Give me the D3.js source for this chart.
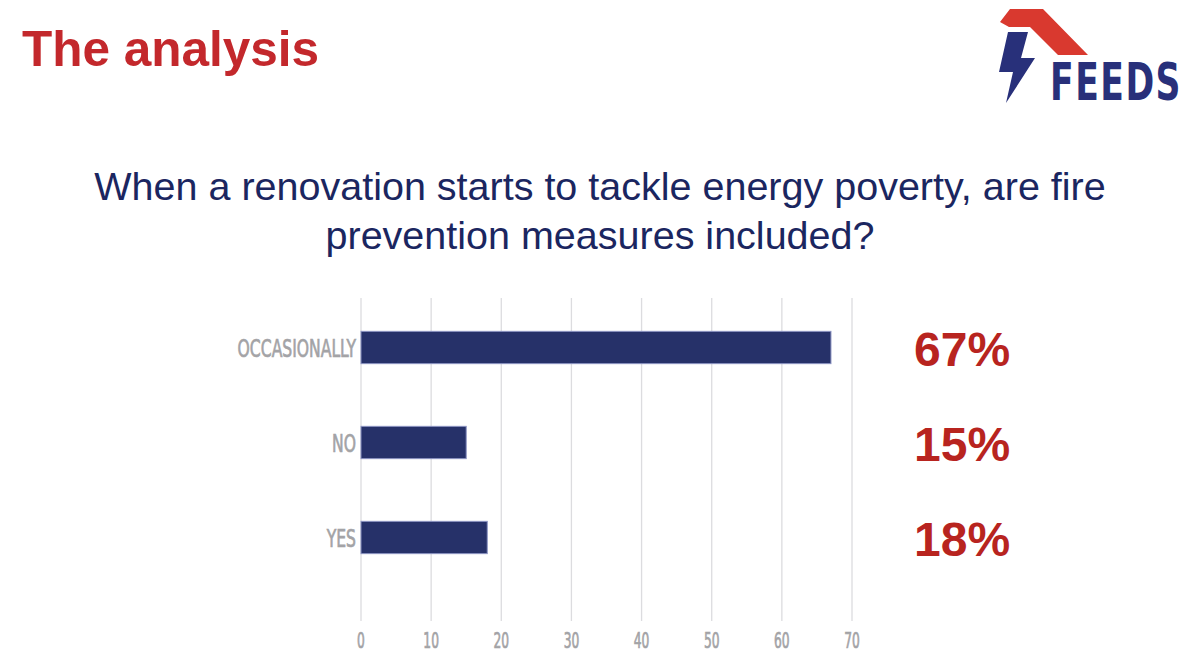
<!DOCTYPE html>
<html><head><meta charset="utf-8">
<script src="https://cdn.jsdelivr.net/npm/d3@7"></script>
<style>body{margin:0;background:#fff}svg{display:block}</style>
</head><body>
<svg id="c" width="1200" height="671"></svg>
<script>
const categories = ["OCCASIONALLY", "NO", "YES"];
const values = [67, 15, 18];
const valueLabels = ["67%", "15%", "18%"];
const ticks = [0, 10, 20, 30, 40, 50, 60, 70];
const title = "The analysis";
const question = ["When a renovation starts to tackle energy poverty, are fire", "prevention measures included?"];

const svg = d3.select("#c");
const x = d3.scaleLinear().domain([0, 70]).range([361, 852]);
const y = d3.scaleBand().domain(categories).range([300, 585]).paddingInner(0.66).paddingOuter(0.33);
const condensed = "'Liberation Sans Narrow','DejaVu Sans Condensed','Arial Narrow',sans-serif";

// title
svg.append("text").attr("x", 22).attr("y", 66).attr("font-family", "'Liberation Sans',Arial,sans-serif")
  .attr("font-weight", "bold").attr("font-size", 49.5).attr("fill", "#c3282c").text(title);

// question
svg.selectAll("text.q").data(question).join("text").attr("class", "q")
  .attr("x", 600).attr("y", (d, i) => 200 + i * 49).attr("text-anchor", "middle")
  .attr("font-family", "'Liberation Sans',Arial,sans-serif").attr("font-size", 39.5)
  .attr("fill", "#1b2660").text(d => d);

// logo
const logo = svg.append("g");
logo.append("path").attr("d", "M1000,22 L1010,9 L1043,9 L1088,55 L1058,55 L1030,27 L1009,27 Z").attr("fill", "#d9392f");
logo.append("path").attr("d", "M1008,32 L1028,32 L1021,58 L1035,58 L1006,103 L1013,72 L999,72 Z").attr("fill", "#28307a");
logo.append("text").attr("transform", "translate(1050,100) scale(0.74,1)")
  .attr("font-family", condensed).attr("font-weight", "bold").attr("font-size", 52)
  .attr("fill", "#28307a").attr("letter-spacing", 2).text("FEEDS");

// grid
svg.append("g").selectAll("line").data(ticks).join("line")
  .attr("x1", d => x(d)).attr("x2", d => x(d)).attr("y1", 298).attr("y2", 621)
  .attr("stroke", "#dcdcdf").attr("stroke-width", 1.3);

// tick labels
svg.append("g").selectAll("text").data(ticks).join("text")
  .attr("transform", d => `translate(${x(d)},648) scale(0.62,1)`)
  .attr("text-anchor", "middle").attr("font-family", condensed).attr("font-size", 22)
  .attr("fill", "#a3a3a6").attr("stroke", "#a3a3a6").attr("stroke-width", 0.7).text(d => d);

// bars
svg.append("g").selectAll("rect").data(values).join("rect")
  .attr("x", x(0)).attr("y", (d, i) => y(categories[i]))
  .attr("width", d => x(d) - x(0)).attr("height", y.bandwidth())
  .attr("fill", "#263169").attr("stroke", "#8b93c2").attr("stroke-width", 1);

// category labels
svg.append("g").selectAll("text").data(categories).join("text")
  .attr("transform", d => `translate(356,${y(d) + y.bandwidth() / 2 + 9}) scale(0.68,1)`)
  .attr("text-anchor", "end").attr("font-family", condensed).attr("font-size", 25.5)
  .attr("fill", "#a3a3a6").attr("stroke", "#a3a3a6").attr("stroke-width", 0.7).text(d => d);

// value labels
svg.append("g").selectAll("text").data(valueLabels).join("text")
  .attr("x", 914).attr("y", (d, i) => y(categories[i]) + y.bandwidth() / 2 + 18)
  .attr("font-family", "'Liberation Sans',Arial,sans-serif").attr("font-weight", "bold")
  .attr("font-size", 48).attr("fill", "#b8241f").text(d => d);
</script>
</body></html>
